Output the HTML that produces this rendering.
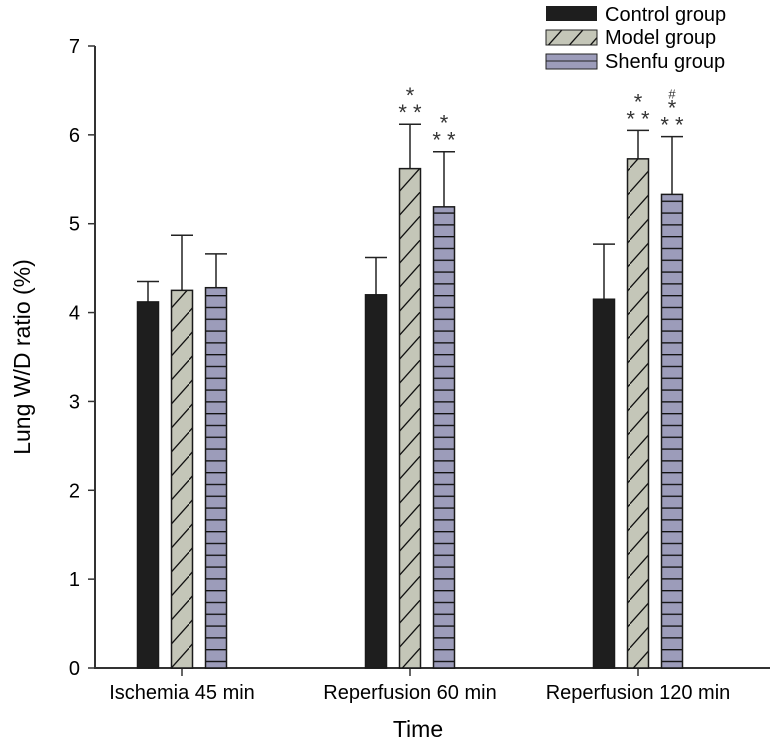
<!DOCTYPE html>
<html><head><meta charset="utf-8"><style>
body{margin:0;background:#fff}
svg{font-family:"Liberation Sans",Arial,sans-serif}
</style></head><body>
<svg id="chart" width="775" height="743" xmlns="http://www.w3.org/2000/svg">
<defs>
<pattern id="diag" patternUnits="userSpaceOnUse" width="21" height="24">
<rect width="21" height="24" fill="#c4c6b8"/>
<path d="M-2,26 L23,-2" stroke="#111" stroke-width="1.3"/>
</pattern>
<pattern id="horiz" patternUnits="userSpaceOnUse" width="21" height="11.8">
<rect width="21" height="11.8" fill="#9c9cba"/>
<line x1="0" y1="0.7" x2="21" y2="0.7" stroke="#111" stroke-width="1.4"/>
</pattern>
</defs>
<g id="axes"></g>
<g id="bars"></g>
<g id="legend">
<rect x="546" y="6" width="51" height="15" fill="#1e1e1e"/>
<text x="605" y="21" font-size="20">Control group</text>
<rect x="546" y="30" width="51" height="15" fill="url(#diag)" stroke="#222"/>
<text x="605" y="44" font-size="20">Model group</text>
<rect x="546" y="54" width="51" height="15" fill="#9c9cba" stroke="#222"/>
<line x1="546" y1="61" x2="597" y2="61" stroke="#222"/>
<text x="605" y="68" font-size="20">Shenfu group</text>
</g>
<text x="418" y="737" font-size="23" text-anchor="middle">Time</text>
<text transform="translate(30,357) rotate(-90)" font-size="23" text-anchor="middle">Lung W/D ratio (%)</text>
</svg>
<script>
const categories = ["Ischemia 45 min","Reperfusion 60 min","Reperfusion 120 min"];
const controlVals = [4.12, 4.2, 4.15];
const modelVals = [4.25, 5.62, 5.73];
const shenfuVals = [4.28, 5.19, 5.33];
const controlErr = [0.23, 0.42, 0.62];
const modelErr = [0.62, 0.5, 0.32];
const shenfuErr = [0.38, 0.62, 0.65];
const modelMarks = ["", "*\n* *", "*\n* *"];
const shenfuMarks = ["", "*\n* *", "#\n*\n* *"];
const yTicks = [0,1,2,3,4,5,6,7];
const NS="http://www.w3.org/2000/svg";
const y = v => 668 - v*(622/7);
const xc = i => 182 + i*228;
const axes=document.getElementById('axes'), bars=document.getElementById('bars');
function mk(tag, attrs, parent){const e=document.createElementNS(NS,tag);for(const k in attrs)e.setAttribute(k,attrs[k]);parent.appendChild(e);return e;}
const ya=mk('line',{x1:95,y1:46,x2:95,y2:668,stroke:'#333','stroke-width':2},axes);


const xa=mk('line',{x1:94,y1:668,x2:770,y2:668,stroke:'#333','stroke-width':2},axes);


yTicks.forEach(t=>{
  mk('line',{x1:88,y1:y(t),x2:95,y2:y(t),stroke:'#333','stroke-width':1.5},axes);
  const tx=mk('text',{x:80,y:y(t)+7,'font-size':20,'text-anchor':'end'},axes);tx.textContent=t;
  
  
});
categories.forEach((c,i)=>{
  mk('line',{x1:xc(i),y1:668,x2:xc(i),y2:676,stroke:'#333','stroke-width':1.5},axes);
  const tx=mk('text',{x:xc(i),y:699,'font-size':20,'text-anchor':'middle'},axes);tx.textContent=c;
  
  
});
const series=[[controlVals,controlErr,'#1e1e1e','control',null],[modelVals,modelErr,'url(#diag)','model',modelMarks],[shenfuVals,shenfuErr,'url(#horiz)','shenfu',shenfuMarks]];
series.forEach((s,si)=>{
  s[0].forEach((v,i)=>{
    const cx=xc(i)+(si-1)*34, x0=cx-10.5;
    const top=y(v+s[1][i]);
    mk('line',{x1:cx,y1:top,x2:cx,y2:y(v),stroke:'#222','stroke-width':1.5},bars);
    mk('line',{x1:cx-11,y1:top,x2:cx+11,y2:top,stroke:'#222','stroke-width':1.5},bars);
    const r=mk('rect',{x:x0,y:y(v),width:21,height:668-y(v),fill:s[2],stroke:'#1a1a1a','stroke-width':1.5},bars);
    
    
    if(s[4]&&s[4][i]){
      const lines=s[4][i].split('\n');
      lines.forEach((ln,k)=>{
        const t=mk('text',{x:cx,y:top-4-(lines.length-1-k)*17,'font-size':ln=='#'?13:22,'text-anchor':'middle',fill:'#333'},bars);
        t.textContent=ln;
        
        
      });
    }
  });
});
</script>
</body></html>
